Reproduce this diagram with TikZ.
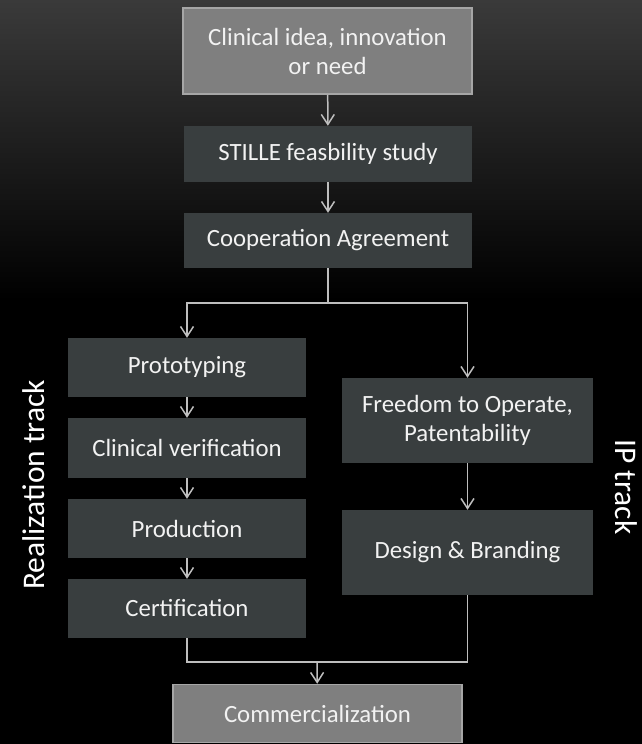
\documentclass[tikz,border=0pt]{standalone}
\usepackage{fontspec}
\setmainfont{Carlito}
\usetikzlibrary{arrows.meta}

\definecolor{boxdark}{RGB}{57,62,63}
\definecolor{boxgray}{RGB}{127,127,127}
\definecolor{boxrim}{RGB}{166,166,166}
\definecolor{linegray}{RGB}{190,190,190}
\definecolor{bgtop}{RGB}{58,58,58}

\tikzset{
  stage/.style={fill=boxdark, text=white!95!black, inner sep=0pt, align=center,
    font=\fontsize{24.8}{29}\selectfont},
  keystage/.style={stage, fill=boxgray, draw=boxrim, line width=1.5pt},
  flow/.style={draw=linegray, line width=1.5pt, -{Straight Barb[length=10pt,width=13pt]}},
  track/.style={text=white, font=\fontsize{31.5}{36}\selectfont}
}

\begin{document}
\begin{tikzpicture}[x=1pt, y=-1pt]
  % background
  \shade[top color=bgtop, bottom color=black] (0,0) rectangle (642,300);
  \fill[black] (0,300) rectangle (642,744);
  \useasboundingbox (0,0) rectangle (642,744);

  \node[keystage, minimum width=289pt, minimum height=86pt] (idea) at (327.5,51)
    {Clinical idea, innovation\\or need};
  \node[stage, minimum width=288pt, minimum height=56pt] (stille) at (328,154)
    {STILLE feasbility study};
  \node[stage, minimum width=288pt, minimum height=55pt] (coop) at (328,240.5)
    {Cooperation Agreement};

  % realization track
  \node[stage, minimum width=238pt, minimum height=59pt] (proto) at (187,367.5) {Prototyping};
  \node[stage, minimum width=238pt, minimum height=60pt] (verif) at (187,448) {Clinical verification};
  \node[stage, minimum width=238pt, minimum height=59pt] (prod) at (187,528.5) {Production};
  \node[stage, minimum width=238pt, minimum height=59pt] (cert) at (187,608.5) {Certification};

  % IP track
  \node[stage, minimum width=251pt, minimum height=85pt] (fto) at (467.5,420.5)
    {Freedom to Operate,\\Patentability};
  \node[stage, minimum width=251pt, minimum height=85pt] (design) at (467.5,552.5)
    {Design \& Branding};

  \node[keystage, minimum width=289pt, minimum height=58pt] (comm) at (317.5,713.5)
    {Commercialization};

  \node[track, rotate=90] (realtrack) at (34,485) {Realization track};
  \node[track, rotate=-90] (iptrack) at (626,487) {IP track};

  \coordinate (split) at (328,303);
  \coordinate (merge) at (317,662);

  \draw[flow] (idea) -- (stille);
  \draw[flow] (stille) -- (coop);
  \draw[flow, -] (coop) -- (split);
  \draw[flow] (split) -| (proto);
  \draw[flow] (split) -| (fto);
  \draw[flow] (proto) -- (verif);
  \draw[flow] (verif) -- (prod);
  \draw[flow] (prod) -- (cert);
  \draw[flow] (fto) -- (design);
  \draw[flow, -] (cert) |- (merge);
  \draw[flow, -] (design) |- (merge);
  \draw[flow] (merge) -- (comm);
\end{tikzpicture}
\end{document}
